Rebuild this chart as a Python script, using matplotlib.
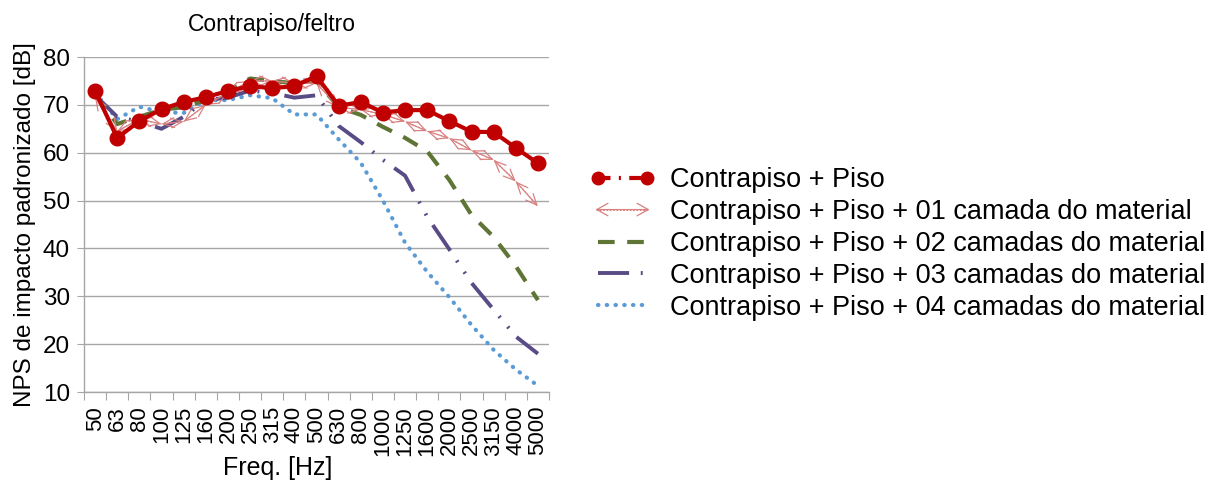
import numpy as np
import matplotlib
matplotlib.use("Agg")
import matplotlib.pyplot as plt
from matplotlib.lines import Line2D
from matplotlib.patches import FancyArrowPatch
from matplotlib.legend_handler import HandlerBase

plt.rcParams["font.family"] = ["Liberation Sans", "DejaVu Sans"]

freqs = ["50", "63", "80", "100", "125", "160", "200", "250", "315", "400", "500",
         "630", "800", "1000", "1250", "1600", "2000", "2500", "3150", "4000", "5000"]

piso = [72.9, 63.1, 66.6, 69.1, 70.6, 71.6, 72.9, 73.9, 73.5, 73.9, 76.0,
        69.8, 70.6, 68.4, 68.9, 68.9, 66.6, 64.4, 64.3, 61.0, 57.8]
camada_01 = [71.5, 64.5, 67.0, 66.0, 66.5, 70.0, 72.5, 75.0, 75.0, 74.5, 74.5,
             69.5, 69.0, 68.0, 66.5, 64.5, 63.0, 60.5, 58.5, 54.0, 48.8]
camadas_02 = [72.0, 66.0, 67.5, 69.0, 69.5, 71.0, 73.0, 75.5, 75.0, 74.5, 75.0,
              69.5, 67.9, 65.4, 63.1, 60.3, 54.3, 47.0, 42.4, 36.3, 29.2]
camadas_03 = [72.0, 67.5, 66.5, 65.0, 67.5, 71.0, 71.5, 73.0, 72.5, 71.5, 72.0,
              65.6, 62.2, 58.5, 55.2, 46.6, 39.8, 32.8, 27.2, 21.6, 18.0]
camadas_04 = [72.5, 67.0, 69.6, 68.5, 68.3, 71.0, 71.0, 72.0, 71.4, 68.0, 68.0,
              62.8, 57.9, 50.0, 41.2, 35.1, 29.8, 24.0, 18.8, 14.7, 11.3]

labels = ["Contrapiso + Piso",
          "Contrapiso + Piso + 01 camada do material",
          "Contrapiso + Piso + 02 camadas do material",
          "Contrapiso + Piso + 03 camadas do material",
          "Contrapiso + Piso + 04 camadas do material"]

RED = "#C00000"
PINK = "#D98080"
GREEN = "#5F7535"
PURPLE = "#594B86"
BLUE = "#5B9BD5"
GRID = "#A6A6A6"

W, H = 1214, 486
fig = plt.figure(figsize=(W / 100, H / 100), dpi=100)
fig.set_facecolor("white")
ax = fig.add_axes([84 / W, 1 - 392 / H, (549 - 84) / W, (392 - 57) / H])

x = np.arange(len(freqs))

# stacked from the lowest curve up so the reference series sits on top
ax.plot(x, camadas_04, color=BLUE, lw=3.0, linestyle=(0, (0.1, 2.0)),
        dash_capstyle="round", zorder=3)
ax.plot(x, camadas_03, color=PURPLE, lw=2.8,
        linestyle=(0, (8, 3, 0.5, 3, 0.5, 3)), zorder=3)
ax.plot(x, camadas_02, color=GREEN, lw=3.0, linestyle=(0, (4, 3)), zorder=3)

# 01 camada: thin dotted line with open double-headed arrows per segment
ax.plot(x, camada_01, color=PINK, lw=0.8, linestyle=(0, (1.5, 1.5)), zorder=4)
for i in range(len(x) - 1):
    arr = FancyArrowPatch((x[i], camada_01[i]), (x[i + 1], camada_01[i + 1]),
                          arrowstyle="<->,head_length=0.8,head_width=0.35",
                          mutation_scale=10, color=PINK, lw=0.9,
                          shrinkA=0, shrinkB=0, zorder=4)
    ax.add_patch(arr)

ax.plot(x, piso, color=RED, lw=3.0, marker="o", markersize=10.5,
        markeredgecolor=RED, zorder=5)

ax.set_xlim(-0.5, len(freqs) - 0.5)
ax.set_ylim(10, 80)
ax.set_yticks(np.arange(10, 81, 10))
ax.yaxis.grid(True, color=GRID, lw=1.0)
ax.set_axisbelow(True)
for side in ("top", "right"):
    ax.spines[side].set_visible(False)
for side in ("left", "bottom"):
    ax.spines[side].set_color(GRID)
    ax.spines[side].set_linewidth(1.0)

# category axis: tick marks between categories, labels at centres
ax.set_xticks(np.arange(-0.5, len(freqs), 1.0))
ax.set_xticklabels([])
ax.set_xticks(x, minor=True)
ax.set_xticklabels(freqs, minor=True, rotation=90, fontsize=16)
ax.tick_params(axis="x", which="major", length=6, color=GRID, direction="out")
ax.tick_params(axis="x", which="minor", length=0, pad=10)
ax.tick_params(axis="y", length=5, color=GRID, labelsize=17.5, pad=5)

ax.set_ylabel("NPS de impacto padronizado [dB]", fontsize=17.5, labelpad=5)
fig.text(272 / W, 1 - 24 / H, "Contrapiso/feltro", fontsize=16.5,
         ha="center", va="center")
fig.text(278 / W, 1 - 468 / H, "Freq. [Hz]", fontsize=18,
         ha="center", va="center")


class ArrowHandler(HandlerBase):
    def create_artists(self, legend, orig_handle, xdescent, ydescent,
                       width, height, fontsize, trans):
        y = height / 2 - ydescent
        line = Line2D([4, width - 4], [y, y], color=PINK, lw=0.8,
                      linestyle=(0, (1.5, 1.5)), transform=trans)
        arr = FancyArrowPatch((4, y), (width - 4, y),
                              arrowstyle="<->,head_length=0.8,head_width=0.45",
                              mutation_scale=10, color=PINK, lw=0.9,
                              shrinkA=0, shrinkB=0, transform=trans)
        return [line, arr]


h_piso = Line2D([], [], color=RED, lw=3.0, linestyle=(0, (3, 2, 0.5, 2)),
                marker="o", markersize=9)
h_01 = Line2D([], [])
h_02 = Line2D([], [], color=GREEN, lw=3.0, linestyle=(0, (4, 3)))
h_03 = Line2D([], [], color=PURPLE, lw=2.8, linestyle=(0, (8, 3, 0.5, 3, 0.5, 3)))
h_04 = Line2D([], [], color=BLUE, lw=3.0, linestyle=(0, (0.1, 2.0)),
              dash_capstyle="round")
fig.legend([h_piso, h_01, h_02, h_03, h_04], labels,
           handler_map={h_01: ArrowHandler()},
           loc="center left", bbox_to_anchor=(590 / W, 1 - 244 / H),
           frameon=False, fontsize=19.5, handlelength=2.4, handletextpad=0.55,
           labelspacing=0.22, numpoints=2, borderaxespad=0, borderpad=0)

fig.savefig("out.png", dpi=100, facecolor="white")
